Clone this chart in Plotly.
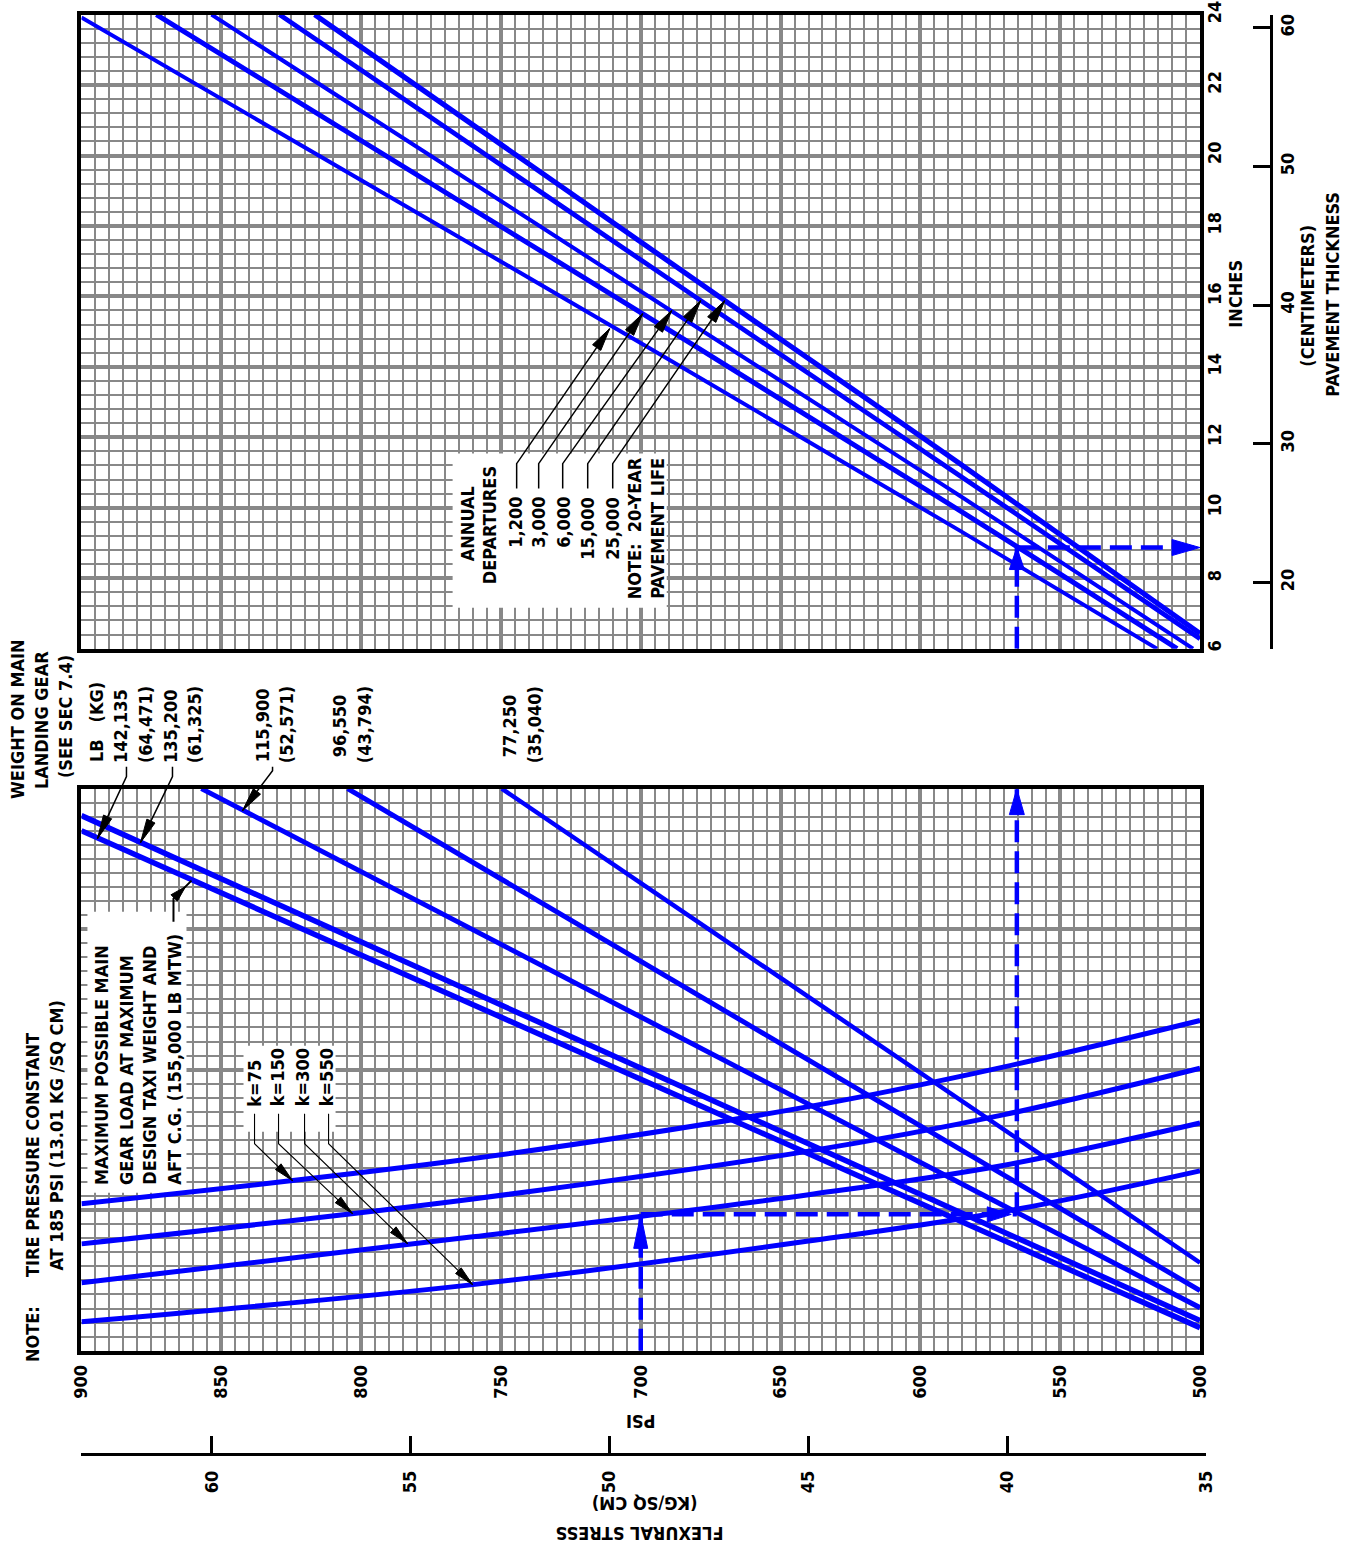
import math
import plotly.graph_objects as go

W_PX, H_PX = 1356, 1552
# measured placement of the rendered page inside the returned picture
SX, AX = 0.984, 11.6
SY, AY = 0.989, 13.4
FONT = "DejaVu Sans Condensed, DejaVu Sans, sans-serif"
BLUE = "#0000ff"
GRID = "#888888"

# ------------------------------------------------------------------ data
psi_range = [900, 500]
psi_major = 50
kg_ticks = [35, 40, 45, 50, 55, 60]
inch_range = [6, 24]
cm_ticks = [20, 30, 40, 50, 60]
PSI_PER_KGCM2 = 14.2233
CM_PER_INCH = 2.54

# k-value curves (bottom chart, intermediate scale u = 0..40)
k_names = ["k=75", "k=150", "k=300", "k=550"]
k_psi = [900, 760, 640, 570, 500]
k75_u = [10.46, 13.67, 17.37, 20.2, 23.5]
k150_u = [7.6, 10.8, 14.2, 16.8, 20.1]
k300_u = [4.84, 8.1, 11.1, 13.2, 16.2]
k550_u = [2.06, 4.7, 7.8, 9.9, 12.8]

# gear-load lines
weight_lb = ["142,135", "135,200", "115,900", "96,550", "77,250"]
weight_kg = ["(64,471)", "(61,325)", "(52,571)", "(43,794)", "(35,040)"]
w142135_psi = [900, 500]
w142135_u = [37.0, 1.64]
w135200_psi = [900, 500]
w135200_u = [38.08, 2.14]
w115900_psi = [857.1, 500]
w115900_u = [40, 3.06]
w96550_psi = [804.8, 500]
w96550_u = [40, 4.27]
w77250_psi = [749.7, 500]
w77250_u = [40, 6.26]

# annual-departure curves (top chart, thickness in inches)
dep_names = ["1,200", "3,000", "6,000", "15,000", "25,000"]
d1200_psi = [900, 729.0, 585.9, 515.4]
d1200_in = [23.92, 16.02, 9.35, 6.0]
d3000_psi = [873.2, 729.0, 585.9, 508.2]
d3000_in = [24, 16.96, 9.92, 6.0]
d6000_psi = [853.5, 689.3, 585.9, 502.5]
d6000_in = [24, 15.6, 10.34, 6.0]
d15000_psi = [829.2, 678.5, 585.9, 500]
d15000_in = [24, 15.88, 10.91, 6.28]
d25000_psi = [816.6, 669.9, 585.9, 500]
d25000_in = [24, 15.88, 11.25, 6.43]

# worked example
ex_stress_psi = 700
ex_turn_psi = 565.5
ex_u = 9.7
ex_thick_in = 8.87

# ------------------------------------------------------------------ layout geometry (target pixels)
PL, PR = 82, 1200
BOT_T, BOT_B = 788, 1350
TOP_T, TOP_B = 14, 648
KG_LINE_Y = 1452
CM_LINE_X = 1270


def fx(X):
    return ((X - AX) / SX) / W_PX


def fy(Y):
    return 1 - ((Y - AY) / SY) / H_PX


def px2psi(px):
    return psi_range[0] - (px - PL) * (psi_range[0] - psi_range[1]) / (PR - PL)


def py2u(py):
    return (BOT_B - py) * 40.0 / (BOT_B - BOT_T)


def py2in(py):
    return inch_range[0] + (TOP_B - py) * (inch_range[1] - inch_range[0]) / (TOP_B - TOP_T)


fig = go.Figure()


def add_line(xs, ys, width, axes=("x", "y"), dash=None, shape="linear"):
    fig.add_trace(go.Scatter(
        x=xs, y=ys, mode="lines", xaxis=axes[0], yaxis=axes[1],
        line=dict(color=BLUE, width=width, dash=dash, shape=shape),
        hoverinfo="skip", showlegend=False))


for ys in (k75_u, k150_u, k300_u, k550_u):
    add_line(k_psi, ys, 5, shape="spline")
add_line(w142135_psi, w142135_u, 5.5)
add_line(w135200_psi, w135200_u, 5.5)
add_line(w115900_psi, w115900_u, 5)
add_line(w96550_psi, w96550_u, 5)
add_line(w77250_psi, w77250_u, 4.5)
for (xs, ys, wd) in ((d1200_psi, d1200_in, 4), (d3000_psi, d3000_in, 5),
                     (d6000_psi, d6000_in, 4), (d15000_psi, d15000_in, 4.8),
                     (d25000_psi, d25000_in, 5.2)):
    add_line(xs, ys, wd, axes=("x2", "y2"), shape="spline")

DASH = "22px,9px"
add_line([ex_stress_psi, ex_stress_psi], [0, ex_u], 4.5, dash=DASH)
add_line([ex_stress_psi, ex_turn_psi], [ex_u, ex_u], 4.5, dash=DASH)
add_line([ex_turn_psi, ex_turn_psi], [ex_u, 40], 4.5, dash=DASH)
add_line([ex_turn_psi, ex_turn_psi], [inch_range[0], ex_thick_in], 4.5, axes=("x2", "y2"), dash=DASH)
add_line([ex_turn_psi, psi_range[1]], [ex_thick_in, ex_thick_in], 4.5, axes=("x2", "y2"), dash=DASH)

# empty traces hosting the secondary scales
fig.add_trace(go.Scatter(x=[], y=[], xaxis="x3", yaxis="y4", showlegend=False))
fig.add_trace(go.Scatter(x=[], y=[], xaxis="x4", yaxis="y3", showlegend=False))
fig.add_trace(go.Scatter(x=[], y=[], xaxis="x2", yaxis="y5", showlegend=False))

shapes = []


def arrow_path(dx, dy, L, Wd):
    n = math.hypot(dx, dy)
    ux, uy = dx / n, -dy / n
    bx, by = -ux * L, -uy * L
    nx, ny = -uy * Wd / 2, ux * Wd / 2
    return "M0,0 L%.2f,%.2f L%.2f,%.2f Z" % (bx + nx, by + ny, bx - nx, by - ny)


def head(xa, ya, dx, dy, L, Wd, color, xref="paper", yref="paper"):
    shapes.append(dict(type="path", xref=xref, yref=yref, xsizemode="pixel", ysizemode="pixel",
                       xanchor=xa, yanchor=ya, path=arrow_path(dx, dy, L, Wd),
                       fillcolor=color, line=dict(color=color, width=1), layer="above"))


def leader(pts, width=1.4, tipL=22, tipW=9):
    path = "M" + " L".join("%.5f,%.5f" % (fx(a), fy(b)) for a, b in pts)
    shapes.append(dict(type="path", xref="paper", yref="paper", path=path,
                       line=dict(color="black", width=width), layer="above"))
    (x0, y0), (x1, y1) = pts[-2], pts[-1]
    head(fx(x1), fy(y1), x1 - x0, y1 - y0, tipL, tipW, "black")


def white_box(x0, y0, x1, y1, top=False):
    if top:
        shapes.append(dict(type="rect", xref="x2", yref="y2", x0=px2psi(x0), x1=px2psi(x1),
                           y0=py2in(y1), y1=py2in(y0), fillcolor="white",
                           line=dict(width=0), layer="between"))
    else:
        shapes.append(dict(type="rect", xref="x", yref="y", x0=px2psi(x0), x1=px2psi(x1),
                           y0=py2u(y1), y1=py2u(y0), fillcolor="white",
                           line=dict(width=0), layer="between"))


white_box(453, 453, 667, 607, top=True)
white_box(88, 911, 187, 1192)
white_box(244, 1045, 336, 1131)

head(ex_stress_psi, ex_u, 0, -1, 34, 14, BLUE, "x", "y")
head(ex_turn_psi + 2, ex_u, 1, 0, 24, 15, BLUE, "x", "y")
head(ex_turn_psi, 40, 0, -1, 26, 15, BLUE, "x", "y")
head(ex_turn_psi, ex_thick_in, 0, -1, 22, 15, BLUE, "x2", "y2")
head(psi_range[1], ex_thick_in, 1, 0, 28, 16, BLUE, "x2", "y2")

dep_stub_x = [517, 539, 563, 588, 613]
dep_tips = [(610, 328), (643, 313), (672, 310), (701, 300), (725, 300)]
for sx, tip in zip(dep_stub_x, dep_tips):
    leader([(sx, 488), (sx, 463), tip], width=1.5, tipL=23, tipW=10)

leader([(127, 766), (127, 776), (98, 838)], width=1.5, tipL=24, tipW=9)
leader([(173, 766), (173, 776), (141, 842)], width=1.5, tipL=24, tipW=9)
leader([(273, 766), (273, 770), (243, 810)], width=1.5, tipL=24, tipW=9)
shapes.append(dict(type="path", xref="paper", yref="paper",
                   path="M%.5f,%.5f L%.5f,%.5f L%.5f,%.5f" % (fx(174), fy(921), fx(174), fy(898), fx(192), fy(880)),
                   line=dict(color="black", width=2), layer="above"))
head(fx(186), fy(886), 1, -1, 16, 9, "black")

k_stub_x = [255, 279, 305, 329]
k_tips = [(293, 1180), (353, 1213), (408, 1243), (473, 1284)]
for sx, tip in zip(k_stub_x, k_tips):
    leader([(sx, 1113), (sx, 1143), tip], width=1.1, tipL=20, tipW=8)

# ------------------------------------------------------------------ texts
annotations = []


def txt(s, px, py, angle=-90, xanchor="center", yanchor="middle", size=18):
    annotations.append(dict(text=s, x=fx(px), y=fy(py), xref="paper", yref="paper",
                            showarrow=False, textangle=angle, xanchor=xanchor, yanchor=yanchor,
                            font=dict(family=FONT, size=size, color="black", weight="bold")))


txt("ANNUAL", 468, 523)
txt("DEPARTURES", 490, 525)
for s, x in zip(dep_names, [515, 538, 563, 587, 612]):
    txt(s, x, 494, yanchor="top")
txt("NOTE:  20-YEAR", 635, 455, yanchor="top")
txt("PAVEMENT LIFE", 657, 455, yanchor="top")

txt("INCHES", 1236, 293)
txt("(CENTIMETERS)", 1308, 295)
txt("PAVEMENT THICKNESS", 1333, 294)

txt("WEIGHT ON MAIN", 18, 718)
txt("LANDING GEAR", 42, 719)
txt("(SEE SEC 7.4)", 66, 716)
txt("LB   (KG)", 97, 721)
lb_x = [121, 171, 263, 340, 510]
kg_x = [146, 195, 287, 365, 535]
for s, x in zip(weight_lb, lb_x):
    txt(s, x, 725)
for s, x in zip(weight_kg, kg_x):
    txt(s, x, 724)

txt("NOTE:", 33, 1333)
txt("TIRE PRESSURE CONSTANT", 33, 1278, yanchor="bottom")
txt("AT 185 PSI (13.01 KG /SQ CM)", 57, 1272, yanchor="bottom")
for s, x in zip(["MAXIMUM POSSIBLE MAIN", "GEAR LOAD AT MAXIMUM",
                 "DESIGN TAXI WEIGHT AND", "AFT C.G. (155,000 LB MTW)"], [102, 127, 150, 175]):
    txt(s, x, 1186, yanchor="bottom")
for s, x in zip(k_names, [255, 278, 303, 327]):
    txt(s, x, 1108, yanchor="bottom")

txt("PSI", 641, 1421, angle=180)
txt("(KG/SQ CM)", 645, 1503, angle=180)
txt("FLEXURAL STRESS", 640, 1533, angle=180)

# ------------------------------------------------------------------ axes
tickfont = dict(family=FONT, size=18, color="black", weight="bold")
frame = dict(showline=True, linecolor="black", linewidth=4, mirror=True, zeroline=False)

fig.update_layout(
    width=W_PX, height=H_PX,
    margin=dict(l=0, r=0, t=0, b=0),
    paper_bgcolor="white", plot_bgcolor="white",
    font=dict(family=FONT, color="black"),
    showlegend=False,
    xaxis=dict(domain=[fx(PL), fx(PR)], range=psi_range, anchor="y",
               tickmode="linear", tick0=500, dtick=psi_major, tickangle=-90,
               tickfont=tickfont, ticks="", ticklabelstandoff=3, ticklabeloverflow="allow",
               showgrid=True, gridcolor=GRID, gridwidth=4,
               minor=dict(tickmode="linear", tick0=500, dtick=5, showgrid=True,
                          gridcolor=GRID, gridwidth=2),
               **frame),
    yaxis=dict(domain=[fy(BOT_B), fy(BOT_T)], range=[0, 40], anchor="x",
               tickmode="linear", tick0=0, dtick=10, showticklabels=False, ticks="",
               showgrid=True, gridcolor=GRID, gridwidth=4,
               minor=dict(tickmode="linear", tick0=0, dtick=1, showgrid=True,
                          gridcolor=GRID, gridwidth=2),
               **frame),
    xaxis2=dict(domain=[fx(PL), fx(PR)], matches="x", range=psi_range, anchor="y2",
                tickmode="linear", tick0=500, dtick=psi_major, showticklabels=False, ticks="",
                showgrid=True, gridcolor=GRID, gridwidth=4,
                minor=dict(tickmode="linear", tick0=500, dtick=5, showgrid=True,
                           gridcolor=GRID, gridwidth=2),
                **frame),
    yaxis2=dict(domain=[fy(TOP_B), fy(TOP_T)], range=inch_range, anchor="x2", side="right",
                tickmode="linear", tick0=6, dtick=2, showticklabels=False, ticks="",
                showgrid=True, gridcolor=GRID, gridwidth=4,
                minor=dict(tickmode="linear", tick0=6, dtick=0.4, showgrid=True,
                           gridcolor=GRID, gridwidth=2),
                **frame),
    # inch tick labels, placed just right of the frame
    yaxis5=dict(overlaying="y2", anchor="free", position=fx(PR + 2), side="right",
                range=inch_range, tickmode="linear", tick0=6, dtick=2, tickangle=-90,
                tickfont=tickfont, ticks="", ticklabelstandoff=0, ticklabeloverflow="allow",
                showline=False, showgrid=False, zeroline=False),
    # flexural stress in kg/sq cm
    xaxis3=dict(domain=[fx(PL), fx(1206)],
                range=[psi_range[0] / PSI_PER_KGCM2, 35.0], anchor="y4",
                tickmode="array", tickvals=kg_ticks, ticks="inside", ticklen=17, tickwidth=2.5,
                tickcolor="black", tickangle=-90, tickfont=tickfont, ticklabelstandoff=8,
                ticklabeloverflow="allow",
                showline=True, linecolor="black", linewidth=2.5, showgrid=False, zeroline=False),
    yaxis4=dict(domain=[fy(KG_LINE_Y), fy(KG_LINE_Y - 10)], range=[0, 1], anchor="x3",
                visible=False, showgrid=False),
    # pavement thickness in cm
    yaxis3=dict(domain=[fy(TOP_B), fy(TOP_T)],
                range=[inch_range[0] * CM_PER_INCH, inch_range[1] * CM_PER_INCH], anchor="x4",
                side="right", tickmode="array", tickvals=[inch_range[0] * CM_PER_INCH] + cm_ticks,
                ticktext=[""] + [str(v) for v in cm_ticks],
                ticks="inside", ticklen=17, tickwidth=2.5, tickcolor="black",
                tickangle=-90, tickfont=tickfont, ticklabelstandoff=0, ticklabeloverflow="allow",
                showline=True, linecolor="black", linewidth=2.5, showgrid=False, zeroline=False),
    xaxis4=dict(domain=[fx(CM_LINE_X - 12), fx(CM_LINE_X)], range=[0, 1], anchor="y3",
                visible=False, showgrid=False),
    shapes=shapes,
    annotations=annotations,
)

fig.write_html("out.html", config={"displayModeBar": False},
               post_script="document.body.style.margin='0';document.body.style.padding='0';")
